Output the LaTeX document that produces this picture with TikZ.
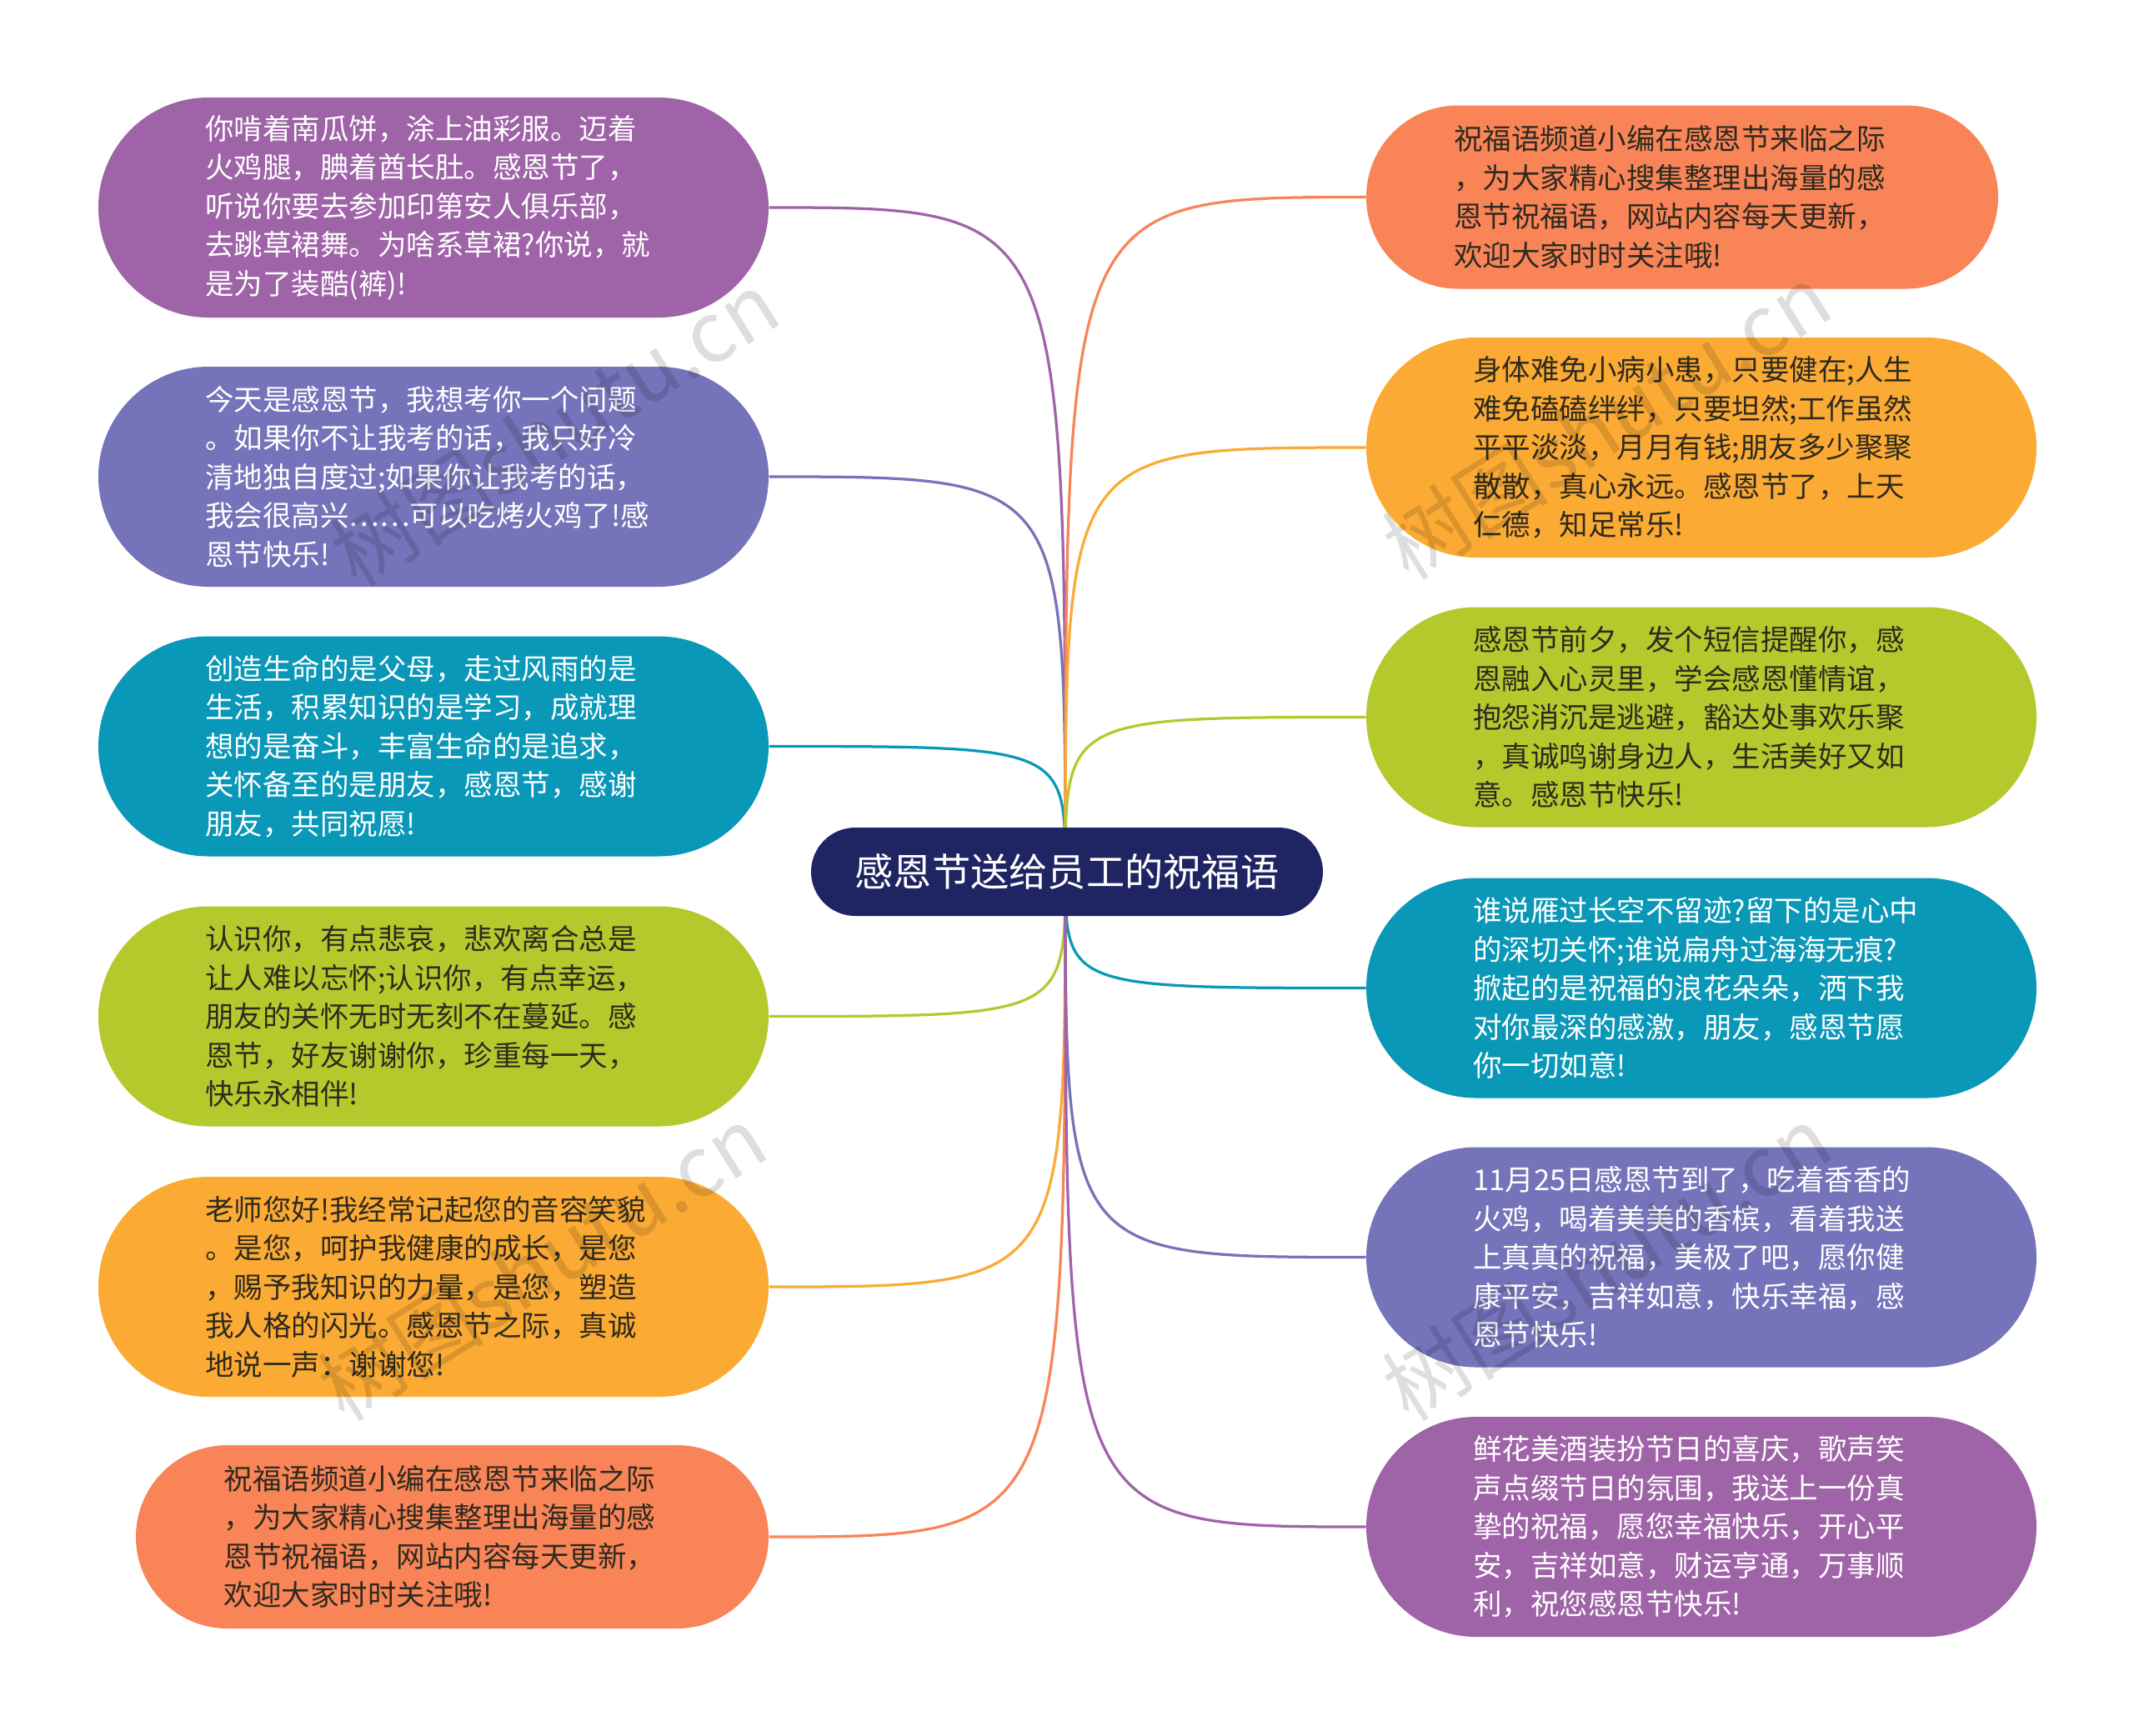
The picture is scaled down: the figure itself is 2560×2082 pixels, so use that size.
\documentclass[tikz,border=0pt]{standalone}
\usepackage{fontspec}
\setmainfont{Noto Sans CJK SC}
\newfontfamily\cjk{Noto Sans CJK SC}
\usetikzlibrary{calc}
\definecolor{cpurple}{HTML}{9F64A8}
\definecolor{cviolet}{HTML}{7573BA}
\definecolor{cteal}{HTML}{0A98B8}
\definecolor{clime}{HTML}{B5C92D}
\definecolor{corange}{HTML}{FBAA34}
\definecolor{ccoral}{HTML}{F88458}
\definecolor{cnavy}{HTML}{1F2463}
\definecolor{cdark}{HTML}{2E2A1E}
\tikzset{
  bubble/.style={rectangle, rounded corners=52.8pt, minimum width=321.6pt,
    minimum height=105.6pt, inner sep=0pt, align=left, text width=219pt,
    font=\cjk\fontsize{13.8}{18.6}\selectfont},
  bubblesmall/.style={bubble, rounded corners=44pt, minimum height=88pt},
  conn/.style={line width=1.3pt},
  wmark/.style={font=\cjk\fontsize{40}{40}\selectfont, text=black, text opacity=0.13, rotate=32}
}
\begin{document}
\begin{tikzpicture}[x=0.4pt,y=-0.4pt]
\useasboundingbox (0,0) rectangle (2560,2082);
\fill[white] (0,0) rectangle (2560,2082);
\coordinate (hub) at (1278,1046);

% left nodes
\node[bubble, fill=cpurple, text=white] (L1) at (520,249) {你啃着南瓜饼，涂上油彩服。迈着\\火鸡腿，腆着酋长肚。感恩节了，\\听说你要去参加印第安人俱乐部，\\去跳草裙舞。为啥系草裙?你说，就\\是为了装酷(裤)!};
\node[bubble, fill=cviolet, text=white] (L2) at (520,572) {今天是感恩节，我想考你一个问题\\。如果你不让我考的话，我只好冷\\清地独自度过;如果你让我考的话，\\我会很高兴……可以吃烤火鸡了!感\\恩节快乐!};
\node[bubble, fill=cteal, text=white] (L3) at (520,895.5) {创造生命的是父母，走过风雨的是\\生活，积累知识的是学习，成就理\\想的是奋斗，丰富生命的是追求，\\关怀备至的是朋友，感恩节，感谢\\朋友，共同祝愿!};
\node[bubble, fill=clime, text=cdark] (L4) at (520,1219.5) {认识你，有点悲哀，悲欢离合总是\\让人难以忘怀;认识你，有点幸运，\\朋友的关怀无时无刻不在蔓延。感\\恩节，好友谢谢你，珍重每一天，\\快乐永相伴!};
\node[bubble, fill=corange, text=cdark] (L5) at (520,1544) {老师您好!我经常记起您的音容笑貌\\。是您，呵护我健康的成长，是您\\，赐予我知识的力量，是您，塑造\\我人格的闪光。感恩节之际，真诚\\地说一声：谢谢您!};
\node[bubblesmall, fill=ccoral, text=cdark, minimum width=303.6pt] (L6) at (542.5,1844) {祝福语频道小编在感恩节来临之际\\，为大家精心搜集整理出海量的感\\恩节祝福语，网站内容每天更新，\\欢迎大家时时关注哦!};

% right nodes
\node[bubblesmall, fill=ccoral, text=cdark, minimum width=303.2pt] (R1) at (2018,236.5) {祝福语频道小编在感恩节来临之际\\，为大家精心搜集整理出海量的感\\恩节祝福语，网站内容每天更新，\\欢迎大家时时关注哦!};
\node[bubble, fill=corange, text=cdark] (R2) at (2041,537) {身体难免小病小患，只要健在;人生\\难免磕磕绊绊，只要坦然;工作虽然\\平平淡淡，月月有钱;朋友多少聚聚\\散散，真心永远。感恩节了，上天\\仁德，知足常乐!};
\node[bubble, fill=clime, text=cdark] (R3) at (2041,860.5) {感恩节前夕，发个短信提醒你，感\\恩融入心灵里，学会感恩懂情谊，\\抱怨消沉是逃避，豁达处事欢乐聚\\，真诚鸣谢身边人，生活美好又如\\意。感恩节快乐!};
\node[bubble, fill=cteal, text=white] (R4) at (2041,1185.5) {谁说雁过长空不留迹?留下的是心中\\的深切关怀;谁说扁舟过海海无痕?\\掀起的是祝福的浪花朵朵，洒下我\\对你最深的感激，朋友，感恩节愿\\你一切如意!};
\node[bubble, fill=cviolet, text=white] (R5) at (2041,1508.5) {11月25日感恩节到了，吃着香香的\\火鸡，喝着美美的香槟，看着我送\\上真真的祝福，美极了吧，愿你健\\康平安，吉祥如意，快乐幸福，感\\恩节快乐!};
\node[bubble, fill=cpurple, text=white] (R6) at (2041,1832) {鲜花美酒装扮节日的喜庆，歌声笑\\声点缀节日的氛围，我送上一份真\\挚的祝福，愿您幸福快乐，开心平\\安，吉祥如意，财运亨通，万事顺\\利，祝您感恩节快乐!};

% connectors
\begin{scope}[conn]
\draw[cpurple] (hub) .. controls (hub |- L1.east) .. (L1.east);
\draw[cviolet] (hub) .. controls (hub |- L2.east) .. (L2.east);
\draw[cteal] (hub) .. controls (hub |- L3.east) .. (L3.east);
\draw[clime] (hub) .. controls (hub |- L4.east) .. (L4.east);
\draw[corange] (hub) .. controls (hub |- L5.east) .. (L5.east);
\draw[ccoral] (hub) .. controls (hub |- L6.east) .. (L6.east);
\draw[ccoral] (hub) .. controls (hub |- R1.west) .. (R1.west);
\draw[corange] (hub) .. controls (hub |- R2.west) .. (R2.west);
\draw[clime] (hub) .. controls (hub |- R3.west) .. (R3.west);
\draw[cteal] (hub) .. controls (hub |- R4.west) .. (R4.west);
\draw[cviolet] (hub) .. controls (hub |- R5.west) .. (R5.west);
\draw[cpurple] (hub) .. controls (hub |- R6.west) .. (R6.west);
\end{scope}

% center
\node[rectangle, rounded corners=21.2pt, minimum width=245.6pt, minimum height=42.4pt,
  fill=cnavy, text=white, inner sep=0pt, font=\cjk\fontsize{18.5}{20}\selectfont] (C) at (1280,1046) {感恩节送给员工的祝福语};

% watermarks
\node[wmark] (W1) at (665,514) {树图shutu.cn};
\node[wmark] (W2) at (1927,506) {树图shutu.cn};
\node[wmark] (W3) at (650,1515) {树图shutu.cn};
\node[wmark] (W4) at (1927,1515) {树图shutu.cn};
\end{tikzpicture}
\end{document}
